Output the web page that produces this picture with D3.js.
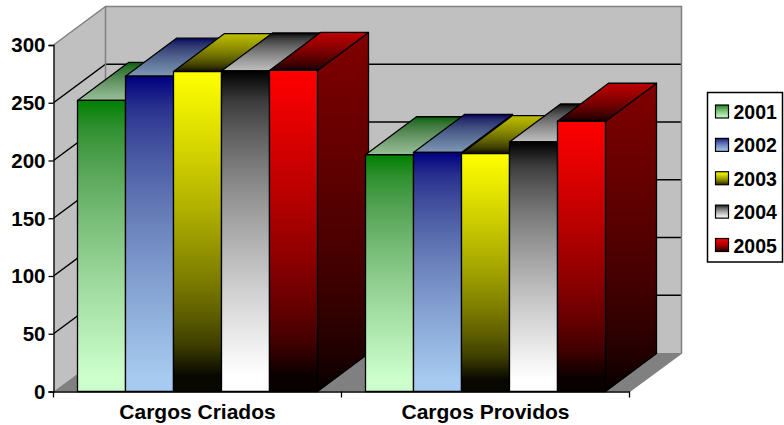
<html>
<head>
<meta charset="utf-8">
<script src="https://d3js.org/d3.v7.min.js"></script>
<style>
  html, body { margin: 0; background: #fff; }
  text { font-family: "Liberation Sans", Arial, sans-serif; font-weight: bold; fill: #000; }
</style>
</head>
<body>
<div id="chart"></div>
<script>
var categories = ['Cargos Criados', 'Cargos Providos']
var years = ['2001', '2002', '2003', '2004', '2005']
var cargosCriados = [252, 273, 277, 277.5, 278]
var cargosProvidos = [205, 207, 206, 216, 234]
var seriesByCategory = [cargosCriados, cargosProvidos]
var topColors = ['#008000', '#000080', '#ffff00', '#000000', '#ff0000']
var bottomColors = ['#ccffcc', '#a6caf0', '#080800', '#ffffff', '#0a0000']
var yTicks = [0, 50, 100, 150, 200, 250, 300]

var width = 784, height = 425
var left = 53.5, right = 629.5, base = 391.5, top3d = 45
var depthX = 52, depthY = 38.5     // offset of the back wall
var barDX = 51, barDY = 38         // offset of the back of a bar

const svg = d3.select('#chart').append('svg')
  .attr('width', width).attr('height', height)
  .style('display', 'block')

var y = d3.scaleLinear().domain([0, 300]).range([base, top3d])
var x0 = d3.scaleBand().domain(categories).range([left, right])
var x1 = d3.scaleBand().domain(years)
  .range([24, x0.bandwidth() - 24])

function shade(c, k) {
  var r = d3.rgb(c)
  return d3.rgb(r.r * k, r.g * k, r.b * k).formatHex()
}

// gradients for the three visible faces of each series
const defs = svg.append('defs')
var ramp = d3.interpolateRgb.gamma(1.6)
function addGradient(id, a, b, end) {
  var mix = ramp(a, b)
  var g = defs.append('linearGradient').attr('id', id)
    .attr('x1', 0).attr('x2', 0).attr('y1', 0).attr('y2', 1)
  g.selectAll('stop').data(d3.range(0, 11)).join('stop')
    .attr('offset', d => d / 10 * end)
    .attr('stop-color', d => mix(d / 10))
}
years.forEach(function (yr, i) {
  var a = topColors[i], b = bottomColors[i]
  addGradient('front' + i, a, b, 0.95)
  addGradient('side' + i, shade(a, 0.5), shade(b, 0.5), 1)
  addGradient('top' + i, shade(a, 0.75), shade(b, 0.75), 1)
  addGradient('key' + i, a, b, 1)
})

function poly(pts) { return 'M' + pts.map(p => p.join(',')).join('L') + 'Z' }

// walls and floor
var backL = left + depthX, backR = right + depthX
var backBase = base - depthY, backTop = top3d - depthY
svg.append('path').attr('fill', '#c0c0c0')
  .attr('d', poly([[left, base], [left, top3d], [backL, backTop], [backR, backTop], [backR, backBase], [backL, backBase]]))
svg.append('path').attr('fill', '#808080')
  .attr('d', poly([[left, base], [backL, backBase], [backR, backBase], [right, base]]))

// gridlines run along the side wall and across the back wall
const grid = svg.append('g').attr('fill', 'none').attr('stroke', '#000').attr('stroke-width', 1.5)
grid.selectAll('path').data(yTicks.filter(d => d > 0 && d < 300)).join('path')
  .attr('d', d => 'M' + left + ',' + y(d) + 'L' + backL + ',' + (y(d) - depthY) + 'L' + backR + ',' + (y(d) - depthY))

svg.append('path').attr('fill', 'none').attr('stroke', '#808080').attr('stroke-width', 1.5)
  .attr('d', 'M' + left + ',' + top3d + 'L' + backL + ',' + backTop + 'L' + backR + ',' + backTop + 'L' + backR + ',' + backBase + 'L' + right + ',' + base
    + 'M' + backL + ',' + backTop + 'L' + backL + ',' + backBase)

// bars, left to right so nearer ones cover the side faces behind them
const bars = svg.append('g').attr('stroke', '#000').attr('stroke-width', 1.3).attr('stroke-linejoin', 'round')
categories.forEach(function (cat, c) {
  seriesByCategory[c].forEach(function (v, i) {
    var xa = x0(cat) + x1(years[i]), xb = xa + x1.bandwidth()
    var yt = y(v)
    bars.append('path').attr('fill', 'url(#side' + i + ')')
      .attr('d', poly([[xb, yt], [xb + barDX, yt - barDY], [xb + barDX, base - barDY], [xb, base]]))
    bars.append('path').attr('fill', 'url(#top' + i + ')')
      .attr('d', poly([[xa, yt], [xa + barDX, yt - barDY], [xb + barDX, yt - barDY], [xb, yt]]))
    bars.append('path').attr('fill', 'url(#front' + i + ')')
      .attr('d', poly([[xa, yt], [xb, yt], [xb, base], [xa, base]]))
  })
})

// axes
const yAxis = svg.append('g').attr('transform', 'translate(' + left + ',0)')
  .call(d3.axisLeft(y).tickValues(yTicks).tickSize(5).tickPadding(3))
const xAxis = svg.append('g').attr('transform', 'translate(0,' + base + ')')
  .call(d3.axisBottom(x0).tickSize(0).tickPadding(13))
xAxis.selectAll('.tick')
  .append('line').attr('stroke', '#000').attr('stroke-width', 1.3)
  .attr('x1', x0.bandwidth() / 2).attr('x2', x0.bandwidth() / 2).attr('y2', 6)
xAxis.append('line').attr('stroke', '#000').attr('stroke-width', 1.3)
  .attr('x1', left).attr('x2', left).attr('y2', 6)
yAxis.selectAll('path,line').attr('stroke', '#000').attr('stroke-width', 1.3)
xAxis.selectAll('path.domain').attr('stroke', '#000').attr('stroke-width', 1.3)
yAxis.selectAll('text').style('font-size', '20.5px').attr('dy', '0.34em')
xAxis.selectAll('text').style('font-size', '21px')

// legend
const legend = svg.append('g')
legend.append('rect').attr('x', 707.5).attr('y', 92.5).attr('width', 75).attr('height', 169.5)
  .attr('fill', '#fff').attr('stroke', '#000').attr('stroke-width', 1.5)
var keyY = d3.scalePoint().domain(years).range([111.5, 245])
years.forEach(function (yr, i) {
  legend.append('rect').attr('x', 715.5).attr('y', keyY(yr) - 6.5).attr('width', 13).attr('height', 13)
    .attr('fill', 'url(#key' + i + ')').attr('stroke', '#000').attr('stroke-width', 1.2)
  legend.append('text').attr('x', 733.5).attr('y', keyY(yr) + 0.5).attr('dy', '0.36em')
    .style('font-size', '19.5px').text(yr)
})
</script>
</body>
</html>
